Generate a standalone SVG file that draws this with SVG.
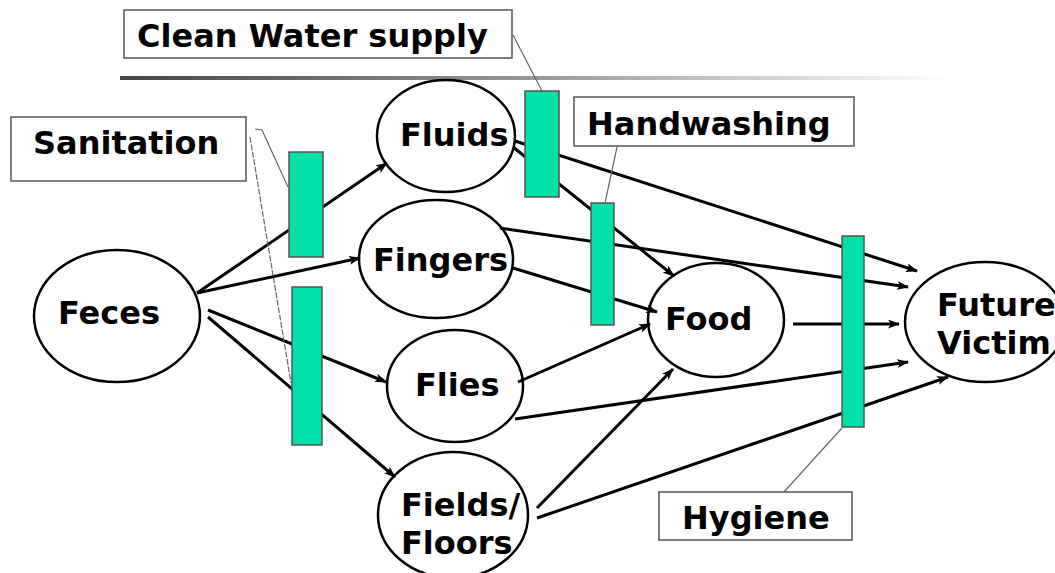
<svg xmlns="http://www.w3.org/2000/svg" width="1055" height="573" viewBox="0 0 1055 573">
<defs>
<linearGradient id="rule" x1="0" y1="0" x2="1" y2="0">
<stop offset="0" stop-color="#444"/>
<stop offset="0.5" stop-color="#999"/>
<stop offset="1" stop-color="#fff"/>
</linearGradient>
<marker id="ah" viewBox="0 0 12 9" refX="11" refY="4.5" markerWidth="12" markerHeight="9" markerUnits="userSpaceOnUse" orient="auto">
<path d="M0,0 L12,4.5 L0,9 L3,4.5 Z" fill="#000"/>
</marker>
<style>
.lbl{font-family:"DejaVu Sans","Verdana",sans-serif;font-weight:bold;font-size:32px;fill:#000}
.node{fill:#fff;stroke:#000;stroke-width:2.5}
.bar{fill:#00E0A8;stroke:#555;stroke-width:1.5}
.box{fill:#fff;stroke:#555;stroke-width:1.5}
.call{fill:none;stroke:#666;stroke-width:1.2}
.arr{fill:none;stroke:#000;stroke-width:3;marker-end:url(#ah)}
</style>
</defs>
<rect width="1055" height="573" fill="#fff"/>
<rect x="120" y="76" width="830" height="4" fill="url(#rule)"/>

<g id="feces"><ellipse class="node" cx="117" cy="316" rx="83" ry="66"/><text class="lbl" x="58" y="324">Feces</text></g>
<g id="fluids"><ellipse class="node" cx="446" cy="136" rx="69" ry="56"/><text class="lbl" x="400" y="146">Fluids</text></g>
<g id="fingers"><ellipse class="node" cx="436" cy="259" rx="77" ry="59"/><text class="lbl" x="373" y="271">Fingers</text></g>
<g id="flies"><ellipse class="node" cx="455" cy="386" rx="68" ry="56"/><text class="lbl" x="415" y="396">Flies</text></g>
<g id="fields"><ellipse class="node" cx="453" cy="515" rx="75" ry="63"/><text class="lbl" x="401" y="516">Fields/</text><text class="lbl" x="401" y="554">Floors</text></g>
<g id="food"><ellipse class="node" cx="716" cy="320" rx="68" ry="57"/><text class="lbl" x="665" y="330">Food</text></g>
<g id="victim"><ellipse class="node" cx="985" cy="322" rx="80" ry="60"/><text class="lbl" x="937" y="316">Future</text><text class="lbl" x="937" y="354">Victim</text></g>

<g id="connectors">
<line class="arr" x1="197" y1="293" x2="387" y2="163"/>
<line class="arr" x1="197" y1="293" x2="360" y2="258"/>
<line class="arr" x1="208" y1="310" x2="386" y2="382"/>
<line class="arr" x1="208" y1="317" x2="395" y2="477"/>
<line class="arr" x1="515" y1="141" x2="917" y2="271"/>
<line class="arr" x1="513" y1="147" x2="674" y2="276"/>
<line class="arr" x1="500" y1="228" x2="908" y2="287"/>
<line class="arr" x1="513" y1="268" x2="657" y2="312"/>
<line class="arr" x1="518" y1="382" x2="650" y2="324"/>
<line class="arr" x1="515" y1="419" x2="908" y2="362"/>
<line class="arr" x1="537" y1="508" x2="673" y2="369"/>
<line class="arr" x1="537" y1="518" x2="948" y2="377"/>
<line class="arr" x1="793" y1="324" x2="899" y2="324"/>
</g>

<g id="barrier-sanitation-1"><rect class="bar" x="289" y="152" width="34" height="105"/></g>
<g id="barrier-sanitation-2"><rect class="bar" x="292" y="287" width="30" height="158"/></g>
<g id="barrier-water"><rect class="bar" x="525" y="91" width="34" height="106"/></g>
<g id="barrier-handwashing"><rect class="bar" x="591" y="203" width="23" height="122"/></g>
<g id="barrier-hygiene"><rect class="bar" x="842" y="236" width="22" height="191"/></g>

<g id="callouts">
<polyline class="call" points="513,35 542,91"/>
<polyline class="call" points="255,129 262,130 288,187"/>
<polyline class="call" points="250,137 291,383" stroke-dasharray="6,1.5"/>
<polyline class="call" points="617,147 605,203"/>
<polyline class="call" points="783,493 842,428"/>
</g>

<g id="label-water"><rect class="box" x="124" y="10" width="388" height="48"/><text class="lbl" x="137" y="47">Clean Water supply</text></g>
<g id="label-sanitation"><rect class="box" x="11" y="117" width="235" height="64"/><text class="lbl" x="33" y="154">Sanitation</text></g>
<g id="label-handwashing"><rect class="box" x="574" y="97" width="280" height="49"/><text class="lbl" x="587" y="135">Handwashing</text></g>
<g id="label-hygiene"><rect class="box" x="659" y="492" width="193" height="48"/><text class="lbl" x="682" y="529">Hygiene</text></g>
</svg>
